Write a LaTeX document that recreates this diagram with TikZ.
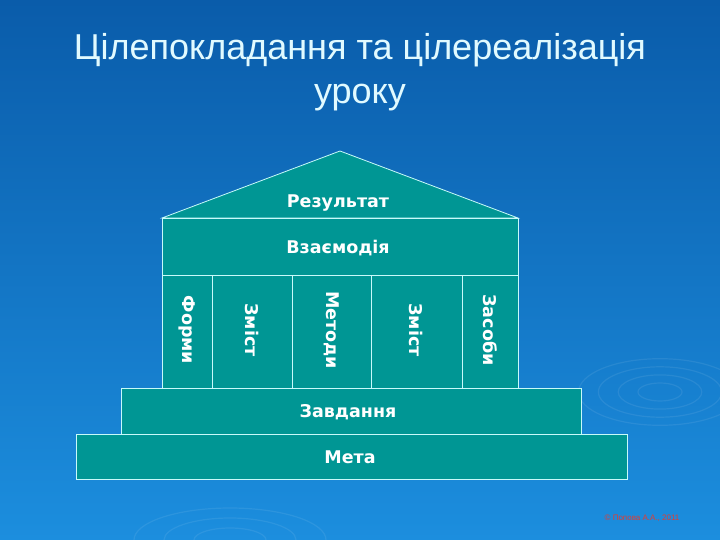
\documentclass[tikz,border=0pt]{standalone}
\usepackage{fontspec}
\setmainfont{Liberation Sans}
\newfontfamily\boxfont{DejaVu Sans}
\definecolor{bgtop}{RGB}{10,92,170}
\definecolor{bgbot}{RGB}{28,142,222}
\definecolor{tealbox}{RGB}{0,150,148}
\definecolor{rimline}{RGB}{200,250,250}
\definecolor{titletext}{RGB}{225,250,255}
\definecolor{credittext}{RGB}{225,60,50}

\begin{document}
\begin{tikzpicture}[x=1pt,y=-1pt,
    part/.style={draw=rimline, line width=0.8pt, fill=tealbox},
    word/.style={inner sep=0pt, text=white, font=\boxfont\bfseries\fontsize{17.5}{20}\selectfont},
    ripple/.style={draw=white, opacity=0.08, line width=1.2pt}]
    \shade[top color=bgtop, bottom color=bgbot] (0,0) rectangle (720,540);
    \useasboundingbox (0,0) rectangle (720,540);
    % ripples on the water
    \foreach \r in {20,38,56,74} {
        \draw[ripple] (660,392) ellipse ({\r*1.1} and {\r*0.45});
    }
    \foreach \r in {30,55,80} {
        \draw[ripple] (230,540) ellipse ({\r*1.2} and {\r*0.4});
    }
    % title
    \node[text=titletext, font=\fontsize{36}{44}\selectfont, align=center] (title) at (360,72) {Цілепокладання та цілереалізація\\уроку};
    % roof
    \coordinate (apex) at (340,151);
    \draw[part] (162,218) -- (apex) -- (518,218) -- cycle;
    \node[word] (result) at (338,203) {Результат};
    % beam
    \draw[part] (162,218) rectangle (518,275);
    \node[word] (vzaem) at (338,248) {Взаємодія};
    % columns
    \foreach \xa/\xb/\txt [count=\i] in {162/212/Форми, 212/292/Зміст, 292/371/Методи, 371/462/Зміст, 462/518/Засоби} {
        \draw[part] (\xa,275) rectangle (\xb,388);
        \node[word, rotate=-90] (col\i) at ({(\xa+\xb)/2},330) {\txt};
    }
    % steps
    \draw[part] (121,388) rectangle (581,434);
    \node[word] (zavd) at (348,412) {Завдання};
    \draw[part] (76,434) rectangle (627,479);
    \node[word] (meta) at (350,457) {Мета};
    \node[text=credittext, font=\fontsize{8}{9}\selectfont] (credit) at (642,518) {© Попова А.А., 2011};
\end{tikzpicture}
\end{document}
